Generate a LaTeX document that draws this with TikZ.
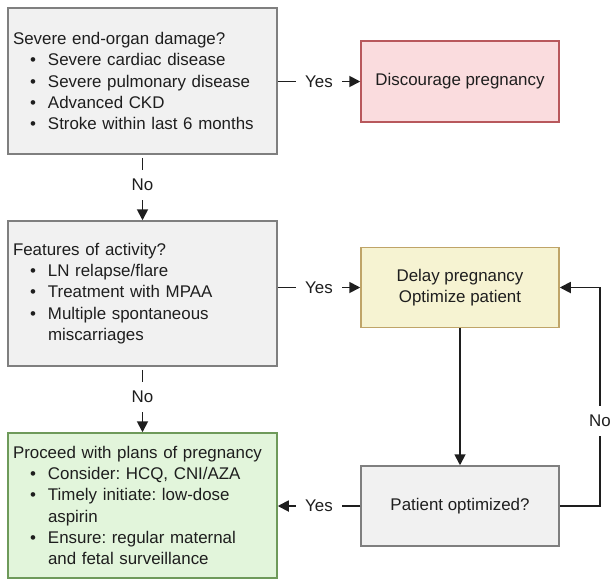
\documentclass[tikz,border=0pt]{standalone}
\usepackage{fontspec}
\setmainfont{Liberation Sans}
\usetikzlibrary{arrows.meta}
\frenchspacing
\definecolor{txt}{HTML}{1E1E1E}
\definecolor{grayfill}{HTML}{F1F1F1}
\definecolor{grayline}{HTML}{7F7F7F}
\definecolor{pinkfill}{HTML}{FADCDE}
\definecolor{pinkline}{HTML}{B8585C}
\definecolor{yelfill}{HTML}{F6F3D2}
\definecolor{yelline}{HTML}{BFA468}
\definecolor{grnfill}{HTML}{E2F5DB}
\definecolor{grnline}{HTML}{6E9A5A}
\newcommand{\bul}{\makebox[35pt][l]{\hspace{17pt}\textbullet}}
\newcommand{\ind}{\hspace*{35pt}}
\tikzset{
  leftbox/.style={draw, line width=1.5pt, minimum height=#1, text width=259pt, inner xsep=5pt, inner ysep=0pt, align=left, text=txt,
    font=\fontsize{16.9}{21.3}\selectfont},
  rightbox/.style={draw, line width=1.5pt, minimum width=198pt, minimum height=#1, inner sep=0pt, align=center, text=txt,
    font=\fontsize{16.9}{21.3}\selectfont},
  conn/.style={line width=1.8pt, draw=txt},
  arr/.style={conn, -{Triangle[length=11pt,width=11pt]}},
  lab/.style={fill=white, text=txt, font=\fontsize{16.9}{20}\selectfont, inner xsep=9pt, inner ysep=9pt}
}
\begin{document}
\begin{tikzpicture}[x=1pt,y=-1pt]
\useasboundingbox (0,0) rectangle (613,581);
\node[leftbox=146pt, fill=grayfill, draw=grayline] (b1) at (142.5,81)
  {Severe end-organ damage?\\ \bul Severe cardiac disease\\ \bul Severe pulmonary disease\\ \bul Advanced CKD\\ \bul Stroke within last 6 months};
\node[leftbox=145pt, fill=grayfill, draw=grayline] (b2) at (142.5,293.5)
  {Features of activity?\\ \bul LN relapse/flare\\ \bul Treatment with MPAA\\ \bul Multiple spontaneous\\ \ind miscarriages};
\node[leftbox=145pt, fill=grnfill, draw=grnline] (b3) at (142.5,505.5)
  {Proceed with plans of pregnancy\\ \bul Consider: HCQ, CNI/AZA\\ \bul Timely initiate: low-dose\\ \ind aspirin\\ \bul Ensure: regular maternal\\ \ind and fetal surveillance};
\node[rightbox=81pt, fill=pinkfill, draw=pinkline] (disc) at (460,81.5) {Discourage pregnancy};
\node[rightbox=80pt, fill=yelfill, draw=yelline] (delay) at (460,287.5) {Delay pregnancy\\Optimize patient};
\node[rightbox=80pt, fill=grayfill, draw=grayline] (opt) at (460,506) {Patient optimized?};
% connectors
\draw[arr] (b1.east |- disc.west) -- node[lab]{Yes} (disc.west);
\draw[arr] (b2.east |- delay.west) -- node[lab]{Yes} (delay.west);
\draw[arr] (opt.west) -- node[lab]{Yes} (b3.east |- opt.west);
\draw[arr, shorten <=3pt] (b1.south) -- node[lab, pos=0.46]{No} (b2.north);
\draw[arr, shorten <=3pt] (b2.south) -- node[lab, pos=0.46]{No} (b3.north);
\draw[arr] (delay.south) -- (opt.north);
\coordinate (lb) at (600,506);
\coordinate (lt) at (600,287.5);
\draw[arr] (opt.east) -- (lb) -- node[lab, pos=0.39]{No} (lt) -- (delay.east);
\end{tikzpicture}
\end{document}
